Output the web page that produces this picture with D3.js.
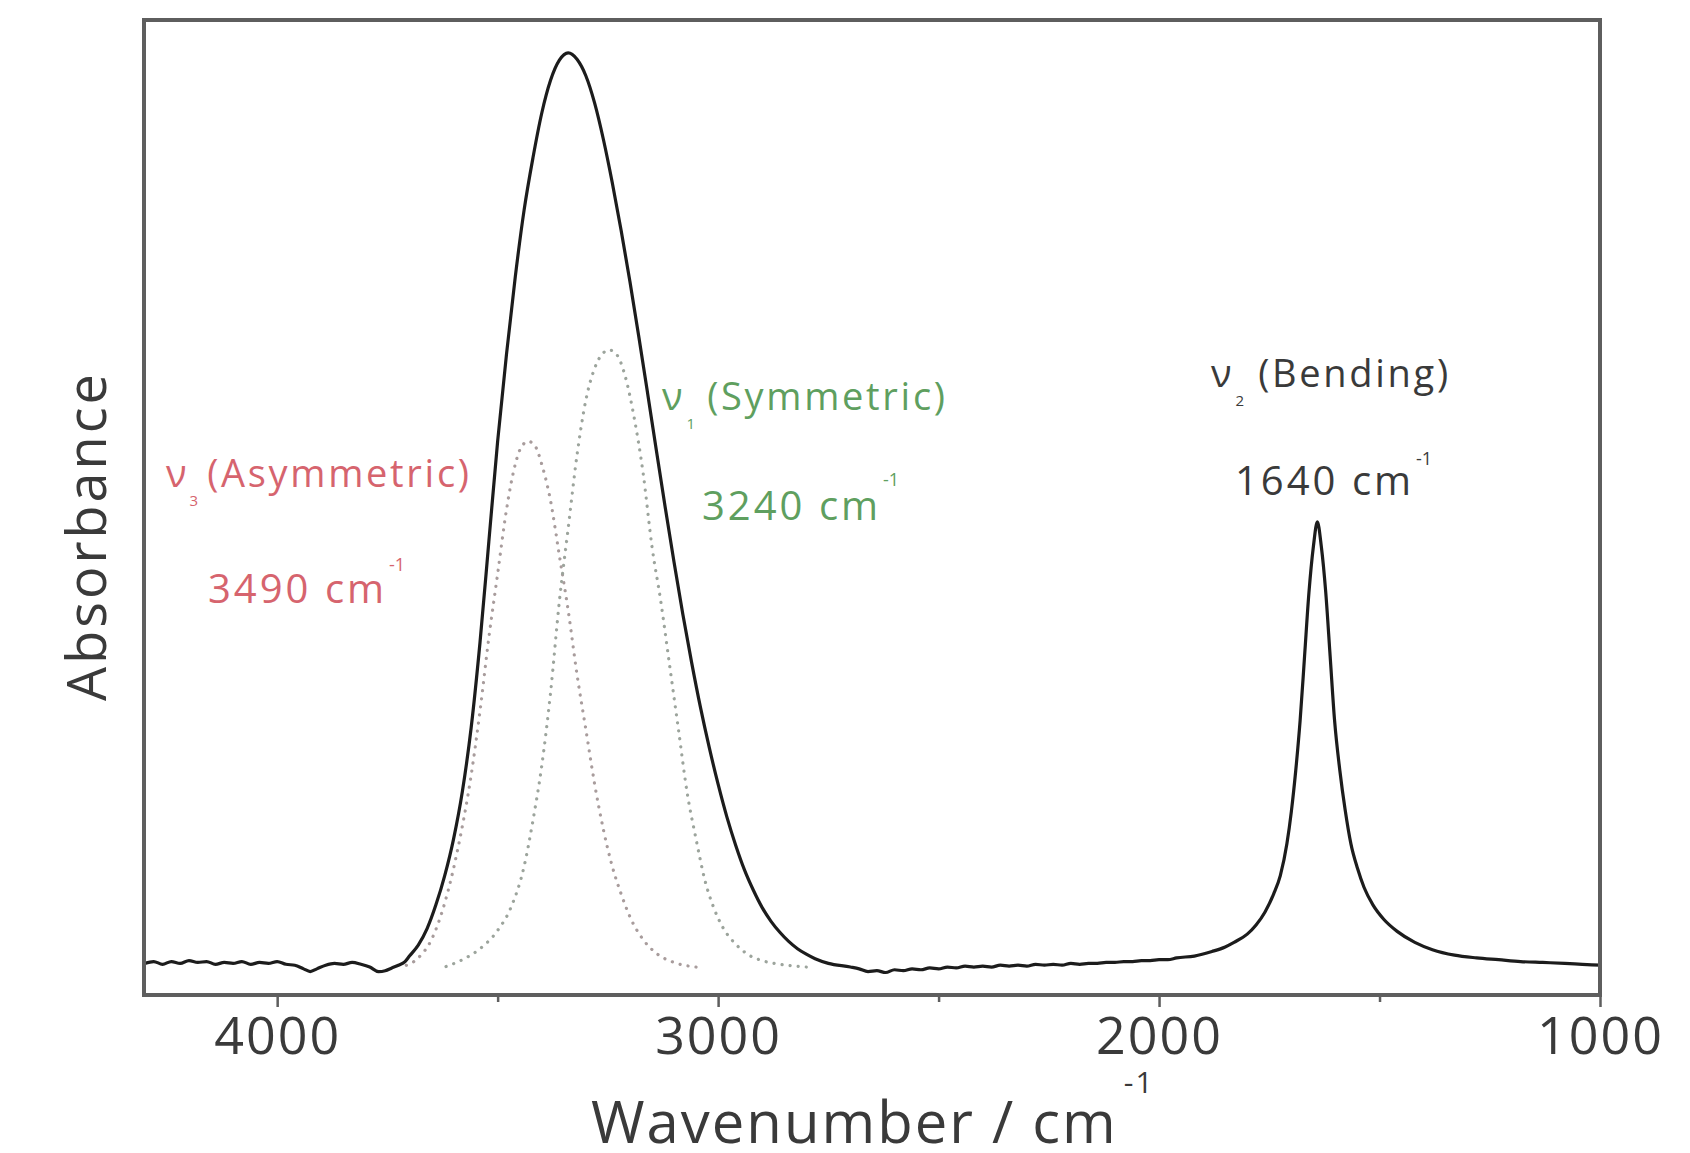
<!DOCTYPE html>
<html>
<head>
<meta charset="utf-8">
<script src="https://cdn.jsdelivr.net/npm/d3@7"></script>
<style>
  html, body { margin: 0; padding: 0; background: #ffffff; }
  svg { display: block; }
  text { font-family: "Open Sans", "DejaVu Sans", sans-serif; }
</style>
</head>
<body>
<svg id="chart" width="1690" height="1153"></svg>
<script>
// ---------- DATA ----------
const xTicksMajor = [4000, 3000, 2000, 1000];
const xTicksMinor = [3500, 2500, 1500];

// measured spectrum: wavenumber (cm^-1)
const spectrumWavenumber = [
  4300, 4280, 4260, 4240, 4220, 4200, 4180, 4160, 4140, 4120, 4100, 4080, 4060, 4040, 4020, 4000,
  3980, 3960, 3940, 3925, 3910, 3890, 3870, 3850, 3830, 3810, 3790, 3770, 3755, 3740, 3725, 3710,
  3700, 3680, 3660, 3640, 3620, 3600, 3580, 3560, 3540, 3520, 3500, 3480, 3460, 3440, 3420, 3400,
  3380, 3360, 3340, 3320, 3300, 3280, 3260, 3240, 3220, 3200, 3180, 3160, 3140, 3120, 3100, 3080,
  3060, 3040, 3020, 3000, 2980, 2960, 2940, 2920, 2900, 2880, 2860, 2840, 2820, 2800, 2780, 2750,
  2700, 2680, 2660, 2640, 2620, 2600, 2580, 2560, 2540, 2520, 2500, 2480, 2460, 2440, 2420, 2400,
  2380, 2360, 2340, 2320, 2300, 2280, 2260, 2240, 2220, 2200, 2180, 2160, 2140, 2120, 2100, 2080,
  2060, 2040, 2020, 2000, 1980, 1960, 1920, 1880, 1850, 1830, 1800, 1780, 1760, 1740, 1725, 1710,
  1700, 1690, 1680, 1670, 1660, 1650, 1641, 1632, 1622, 1612, 1602, 1590, 1578, 1565, 1550, 1535,
  1515, 1490, 1460, 1420, 1380, 1330, 1280, 1230, 1180, 1130, 1080, 1040, 1000
];
// measured spectrum: absorbance (a.u.)
const spectrumAbsorbance = [
  0.004, 0.006, 0.003, 0.006, 0.004, 0.007, 0.005, 0.006, 0.003, 0.005, 0.004, 0.006, 0.003, 0.005, 0.004, 0.006,
  0.003, 0.002, -0.002, -0.005, -0.002, 0.002, 0.004, 0.003, 0.005, 0.003, 0.000, -0.005, -0.004, -0.001, 0.002, 0.006,
  0.012, 0.024, 0.042, 0.068, 0.100, 0.140, 0.192, 0.262, 0.355, 0.465, 0.575, 0.670, 0.755, 0.828, 0.885, 0.934,
  0.970, 0.992, 1.000, 0.993, 0.975, 0.945, 0.905, 0.858, 0.806, 0.750, 0.690, 0.628, 0.565, 0.503, 0.443, 0.386,
  0.333, 0.284, 0.240, 0.200, 0.164, 0.133, 0.106, 0.084, 0.065, 0.050, 0.038, 0.028, 0.020, 0.014, 0.009, 0.004,
  0.000, -0.002, -0.005, -0.004, -0.006, -0.003, -0.004, -0.002, -0.003, -0.001, -0.002, 0.000, -0.001, 0.001, 0.000, 0.001,
  0.000, 0.002, 0.001, 0.002, 0.001, 0.003, 0.002, 0.003, 0.002, 0.004, 0.003, 0.004, 0.004, 0.005, 0.005, 0.006,
  0.006, 0.007, 0.007, 0.008, 0.008, 0.010, 0.012, 0.017, 0.022, 0.027, 0.036, 0.046, 0.060, 0.080, 0.100, 0.135,
  0.170, 0.215, 0.270, 0.340, 0.410, 0.460, 0.487, 0.460, 0.410, 0.340, 0.270, 0.215, 0.172, 0.135, 0.108, 0.087,
  0.068, 0.052, 0.039, 0.027, 0.019, 0.013, 0.010, 0.008, 0.006, 0.005, 0.004, 0.003, 0.002
];

// fitted component v3 (asymmetric stretch)
const asymWavenumber = [3720, 3680, 3650, 3620, 3590, 3560, 3540, 3520, 3500, 3480, 3460, 3445, 3430, 3415, 3400,
  3380, 3360, 3340, 3320, 3300, 3280, 3260, 3240, 3220, 3200, 3170, 3140, 3100, 3050];
const asymAbsorbance = [0.000, 0.010, 0.030, 0.070, 0.130, 0.210, 0.280, 0.360, 0.430, 0.500, 0.550, 0.570, 0.575, 0.570, 0.550,
  0.510, 0.450, 0.390, 0.320, 0.260, 0.200, 0.150, 0.110, 0.080, 0.055, 0.030, 0.015, 0.005, 0.000];

// fitted component v1 (symmetric stretch)
const symWavenumber = [3620, 3580, 3540, 3500, 3470, 3440, 3420, 3400, 3380, 3360, 3340, 3320, 3300, 3280, 3260, 3247,
  3230, 3210, 3190, 3170, 3150, 3130, 3110, 3090, 3070, 3050, 3030, 3010, 2990, 2960, 2930, 2900, 2860, 2800];
const symAbsorbance = [0.000, 0.008, 0.020, 0.040, 0.065, 0.110, 0.160, 0.220, 0.300, 0.400, 0.480, 0.560, 0.620, 0.655, 0.672, 0.675,
  0.670, 0.645, 0.600, 0.540, 0.460, 0.400, 0.330, 0.260, 0.190, 0.140, 0.095, 0.065, 0.044, 0.025, 0.013, 0.007, 0.003, 0.000];

// ---------- CHART ----------
const svg = d3.select("#chart");
const mLeft = 144, mRight = 1600, mTop = 20, mBottom = 995;

const x = d3.scaleLinear().domain([4302, 1000]).range([mLeft, mRight]);
const y = d3.scaleLinear().domain([-0.0306, 1.036]).range([mBottom, mTop]);

const zip = (xs, ys) => xs.map((v, i) => [v, ys[i]]);
const line = d3.line().x(d => x(d[0])).y(d => y(d[1])).curve(d3.curveMonotoneX);

// dotted components
svg.append("path")
  .datum(zip(asymWavenumber, asymAbsorbance).reverse())
  .attr("d", line)
  .attr("fill", "none")
  .attr("stroke", "#a89c9c")
  .attr("stroke-width", 3.2)
  .attr("stroke-linecap", "round")
  .attr("stroke-dasharray", "0.1,8");

svg.append("path")
  .datum(zip(symWavenumber, symAbsorbance).reverse())
  .attr("d", line)
  .attr("fill", "none")
  .attr("stroke", "#9ca49c")
  .attr("stroke-width", 3.2)
  .attr("stroke-linecap", "round")
  .attr("stroke-dasharray", "0.1,8");

// main spectrum
svg.append("path")
  .datum(zip(spectrumWavenumber, spectrumAbsorbance).reverse())
  .attr("d", line)
  .attr("fill", "none")
  .attr("stroke", "#1c1c1c")
  .attr("stroke-width", 3.2)
  .attr("stroke-linejoin", "round");

// frame
svg.append("rect")
  .attr("x", mLeft).attr("y", mTop)
  .attr("width", mRight - mLeft).attr("height", mBottom - mTop)
  .attr("fill", "none")
  .attr("stroke", "#5e5e5e")
  .attr("stroke-width", 4);

// x axis ticks & labels
const axisG = svg.append("g").attr("transform", `translate(0,${mBottom})`);
const xAxis = d3.axisBottom(x).tickValues(xTicksMajor).tickSize(12).tickPadding(10).tickFormat(d3.format("d"));
axisG.call(xAxis);
axisG.select(".domain").remove();
axisG.selectAll(".tick line").attr("stroke", "#5e5e5e").attr("stroke-width", 2.5);
axisG.selectAll(".tick text")
  .attr("font-family", "Open Sans, sans-serif")
  .attr("font-size", 52)
  .attr("letter-spacing", 2)
  .attr("fill", "#3a3a3a");

const minorG = svg.append("g").attr("transform", `translate(0,${mBottom})`);
minorG.call(d3.axisBottom(x).tickValues(xTicksMinor).tickSize(7).tickFormat(""));
minorG.select(".domain").remove();
minorG.selectAll(".tick line").attr("stroke", "#5e5e5e").attr("stroke-width", 2.5);

// axis titles
const xt = svg.append("text")
  .attr("x", 591).attr("y", 1143)
  .attr("font-size", 58).attr("letter-spacing", 2).attr("fill", "#3a3a3a");
xt.append("tspan").text("Wavenumber / cm");
xt.append("tspan").attr("font-size", 30).attr("dx", 6).attr("dy", -50).text("-1");

svg.append("text")
  .attr("transform", "translate(106,536) rotate(-90)")
  .attr("text-anchor", "middle")
  .attr("font-size", 54).attr("letter-spacing", 3).attr("fill", "#3a3a3a")
  .text("Absorbance");

// annotations
function label(g, xPos, yPos, color, sub, rest, size, subDx, restDx) {
  const t = g.append("text").attr("x", xPos).attr("y", yPos).attr("fill", color)
    .attr("font-size", size);
  t.append("tspan").text("ν");
  t.append("tspan").attr("font-size", 15).attr("dx", subDx).attr("dy", 19).text(sub);
  t.append("tspan").attr("dy", -19).attr("dx", restDx).attr("letter-spacing", 2.7).text(rest);
}
function wn(g, xPos, yPos, color, num, size, supDy) {
  const t = g.append("text").attr("x", xPos).attr("y", yPos).attr("fill", color)
    .attr("font-size", size);
  t.append("tspan").attr("letter-spacing", 3).text(num + " cm");
  t.append("tspan").attr("font-size", 18).attr("dx", 2).attr("dy", supDy).text("-1");
}
const ann = svg.append("g");
label(ann, 166, 487, "#d6646e", "3", "(Asymmetric)", 38, 3, 9);
wn(ann, 208, 603, "#d6646e", "3490", 40, -32);
label(ann, 662, 410, "#5f9f5f", "1", "(Symmetric)", 38, 4, 12);
wn(ann, 702, 520, "#5f9f5f", "3240", 40, -34);
label(ann, 1211, 387, "#3a3a3a", "2", "(Bending)", 38, 4, 14);
wn(ann, 1235, 495, "#3a3a3a", "1640", 40, -30);
</script>
</body>
</html>
